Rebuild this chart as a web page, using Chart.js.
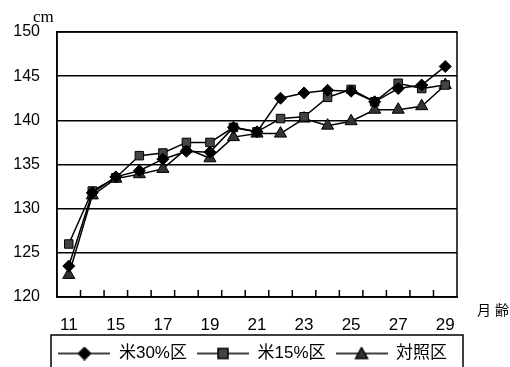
<!DOCTYPE html>
<html>
<head>
<meta charset="utf-8">
<script src="https://cdn.jsdelivr.net/npm/chart.js@4"></script>
<style>
  html, body { margin: 0; padding: 0; background: #fff; }
  #wrap { width: 510px; height: 367px; }
</style>
</head>
<body>
<div id="wrap"><canvas id="growthChart"></canvas></div>
<script>
// months of age (x categories)
const months = ['11', '13', '15', '16', '17', '18', '19', '20', '21', '22', '23', '24', '25', '26', '27', '28', '29'];
// body height, cm
const rice30 = [123.5, 131.8, 133.6, 134.3, 135.6, 136.5, 136.4, 139.2, 138.7, 142.5, 143.1, 143.4, 143.3, 142.1, 143.6, 144.0, 146.1];
const rice15 = [126.0, 132.0, 133.5, 136.0, 136.3, 137.5, 137.5, 139.2, 138.7, 140.2, 140.4, 142.6, 143.5, 142.1, 144.2, 143.6, 144.0];
const control = [122.5, 131.5, 133.4, 133.9, 134.5, 136.8, 135.7, 138.1, 138.5, 138.5, 140.2, 139.4, 139.9, 141.2, 141.2, 141.6, 144.0];
const seriesNames = ['米30%区', '米15%区', '対照区'];
const yTicks = [120, 125, 130, 135, 140, 145, 150];

const FONT = '"Liberation Sans", Arial, "Noto Sans CJK JP", sans-serif';

// legend swatch: short line with the marker in the middle
function legendIcon(shape, fill) {
  const c = document.createElement('canvas');
  c.width = 52; c.height = 14;
  const g = c.getContext('2d');
  g.strokeStyle = '#000';
  g.lineWidth = 1.5;
  g.beginPath(); g.moveTo(0, 7); g.lineTo(52, 7); g.stroke();
  g.fillStyle = fill;
  g.beginPath();
  if (shape === 'diamond') {
    g.moveTo(26, 1); g.lineTo(32, 7); g.lineTo(26, 13); g.lineTo(20, 7);
  } else if (shape === 'square') {
    g.rect(21, 2, 10, 10);
  } else {
    g.moveTo(26, 1); g.lineTo(32, 12); g.lineTo(20, 12);
  }
  g.closePath(); g.fill(); g.stroke();
  return c;
}
const icons = [legendIcon('diamond', '#000'), legendIcon('square', '#444'), legendIcon('triangle', '#333')];

// frame, inward x ticks, legend box and extra labels
const decorations = {
  id: 'decorations',
  afterDraw(chart) {
    const ctx = chart.ctx;
    const a = chart.chartArea;
    const x = chart.scales.x;
    ctx.save();
    ctx.strokeStyle = '#000';
    ctx.lineWidth = 1.5;
    ctx.strokeRect(a.left, a.top, a.right - a.left, a.bottom - a.top);
    ctx.beginPath();
    for (let i = 1; i < months.length; i++) {
      const px = (x.getPixelForValue(i - 1) + x.getPixelForValue(i)) / 2;
      ctx.moveTo(px, a.bottom);
      ctx.lineTo(px, a.bottom - 7);
    }
    ctx.stroke();
    const lg = chart.legend;
    ctx.strokeRect(a.left - 6, lg.top, a.right - a.left + 12, 60);
    ctx.fillStyle = '#000';
    ctx.font = '17px "Liberation Serif", serif';
    ctx.textBaseline = 'alphabetic';
    ctx.fillText('cm', 33, 22);
    ctx.font = '14px ' + FONT;
    ctx.fillText('月 齢', 477, 315);
    ctx.restore();
  }
};

new Chart(document.getElementById('growthChart'), {
  type: 'line',
  data: {
    labels: months,
    datasets: [
      { label: seriesNames[0], data: rice30, pointStyle: 'rectRot', pointRadius: 6, backgroundColor: '#000' },
      { label: seriesNames[1], data: rice15, pointStyle: 'rect', pointRadius: 6, backgroundColor: '#444' },
      { label: seriesNames[2], data: control, pointStyle: 'triangle', pointRadius: 7, backgroundColor: '#333' }
    ].map(d => Object.assign(d, { borderColor: '#000', borderWidth: 1.5, pointBorderColor: '#000', pointBorderWidth: 1, tension: 0 }))
  },
  options: {
    responsive: true,
    maintainAspectRatio: false,
    animation: false,
    layout: { padding: { left: 0, right: 53, top: 32, bottom: -5 } },
    plugins: {
      tooltip: { enabled: false },
      legend: {
        position: 'bottom',
        align: 'end',
        labels: {
          color: '#000',
          font: { family: FONT, size: 17 },
          usePointStyle: true,
          pointStyleWidth: 52,
          padding: 10,
          generateLabels(chart) {
            return chart.data.datasets.map((d, i) => ({
              text: d.label, pointStyle: icons[i], fillStyle: '#000', strokeStyle: '#000',
              lineWidth: 0, hidden: false, datasetIndex: i, fontColor: '#000'
            }));
          }
        }
      }
    },
    scales: {
      x: {
        offset: true,
        afterFit: s => { s.height = 38; },
        grid: { display: false, drawTicks: false },
        border: { color: '#000', width: 1.5 },
        ticks: {
          color: '#000',
          font: { family: FONT, size: 17 },
          padding: 18,
          autoSkip: false,
          maxRotation: 0,
          callback: (v, i) => (i % 2 === 0 ? months[i] : '')
        }
      },
      y: {
        min: yTicks[0],
        max: yTicks[yTicks.length - 1],
        afterBuildTicks: s => { s.ticks = yTicks.map(v => ({ value: v })); },
        afterFit: s => { s.width = 57; },
        grid: { color: '#000', lineWidth: 1.5, drawTicks: false },
        border: { color: '#000', width: 1.5 },
        ticks: {
          color: '#000',
          font: { family: FONT, size: 16 },
          padding: 17
        }
      }
    }
  },
  plugins: [decorations]
});
</script>
</body>
</html>
